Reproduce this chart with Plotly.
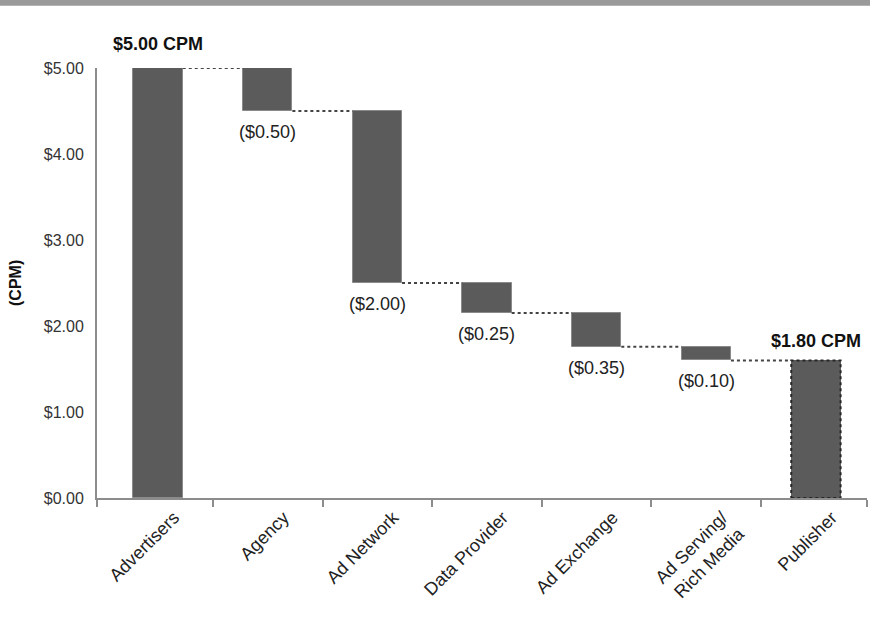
import plotly.graph_objects as go

# ---- data ----
categories = ["Advertisers", "Agency", "Ad Network", "Data Provider",
              "Ad Exchange", "Ad Serving/<br>Rich Media", "Publisher"]
start_value = 5.00
changes = [-0.50, -2.00, -0.35, -0.39, -0.16]   # drawn step sizes
change_labels = ["($0.50)", "($2.00)", "($0.25)", "($0.35)", "($0.10)"]
start_label = "$5.00 CPM"
end_label = "$1.80 CPM"
y_ticks = [0, 1, 2, 3, 4, 5]
y_tick_labels = ["$0.00", "$1.00", "$2.00", "$3.00", "$4.00", "$5.00"]

# ---- derived waterfall geometry ----
levels = [start_value]
for c in changes:
    levels.append(levels[-1] + c)
end_value = levels[-1]

bar_x = list(range(len(categories)))
bar_base = [0] + [levels[i + 1] for i in range(len(changes))] + [0]
bar_height = [start_value] + [-c for c in changes] + [end_value]

W = 0.45
X_RANGE = [-0.557, 6.466]
FONT = "Liberation Sans, Arial, sans-serif"
BAR = "#5b5b5b"

fig = go.Figure()

fig.add_trace(go.Bar(
    x=bar_x[:-1], y=bar_height[:-1], base=bar_base[:-1], width=W,
    marker=dict(color=BAR, line=dict(color="#8a8a8a", width=1)),
    showlegend=False, hoverinfo="skip"))

fig.add_trace(go.Bar(
    x=[bar_x[-1]], y=[bar_height[-1]], base=[bar_base[-1]], width=W,
    marker=dict(color=BAR, line=dict(width=0)),
    showlegend=False, hoverinfo="skip"))

# dotted outline of the publisher bar
px = bar_x[-1]
fig.add_trace(go.Scatter(
    x=[px - W / 2, px + W / 2, px + W / 2, px - W / 2, px - W / 2],
    y=[0, 0, end_value, end_value, 0],
    mode="lines", line=dict(color="#262626", width=2, dash="dot"),
    showlegend=False, hoverinfo="skip"))

# connectors
for i in range(len(categories) - 1):
    lvl = levels[i] if i < len(levels) else end_value
    fig.add_trace(go.Scatter(
        x=[i + W / 2, i + 1 - W / 2], y=[lvl, lvl], mode="lines",
        line=dict(color="#444444", width=2, dash="dot"),
        showlegend=False, hoverinfo="skip"))

annotations = []
for i, txt in enumerate(change_labels):
    annotations.append(dict(
        x=i + 1, y=levels[i + 1], text=txt, showarrow=False,
        yanchor="top", yshift=-9, font=dict(family=FONT, size=18, color="#222")))
annotations.append(dict(
    x=0, y=start_value, text="<b>" + start_label + "</b>", showarrow=False,
    yanchor="bottom", yshift=12, font=dict(family=FONT, size=18, color="#111")))
annotations.append(dict(
    x=px, y=end_value, text="<b>" + end_label + "</b>", showarrow=False,
    yanchor="bottom", yshift=7, font=dict(family=FONT, size=18, color="#111")))
annotations.append(dict(
    xref="paper", yref="paper", x=-0.1065, y=0.50, xanchor="center",
    yanchor="middle", text="<b>(CPM)</b>",
    showarrow=False, textangle=-90, font=dict(family=FONT, size=16, color="#111")))

boundary_ticks = [X_RANGE[0]] + [i + 0.5 for i in range(len(categories) - 1)] + [X_RANGE[1]]

fig.update_layout(
    width=870, height=636,
    margin=dict(l=97, r=3, t=68, b=138),
    paper_bgcolor="white", plot_bgcolor="white",
    font=dict(family=FONT, size=16, color="#333"),
    bargap=0,
    annotations=annotations,
    shapes=[dict(type="rect", xref="paper", yref="paper",
                 x0=-0.2, x1=1.1, y0=1.1445, y1=1.17,
                 fillcolor="#9a9a9a", line=dict(width=0), layer="above")],
    xaxis=dict(
        range=X_RANGE, tickvals=bar_x, ticktext=categories,
        tickangle=-45, ticks="", showgrid=False, zeroline=False,
        showline=True, linecolor="#8c8c8c", linewidth=2,
        ticklabelshift=16,
        tickfont=dict(family=FONT, size=18, color="#222"),
        minor=dict(tickvals=boundary_ticks,
                   ticks="outside", ticklen=7, tickwidth=2, tickcolor="#8c8c8c",
                   showgrid=False)),
    yaxis=dict(
        range=[0, 5], tickvals=y_ticks, ticktext=y_tick_labels,
        showgrid=False, zeroline=False, showline=True,
        linecolor="#8c8c8c", linewidth=2, ticks="", ticklabelstandoff=8,
        tickfont=dict(family=FONT, size=16, color="#333")),
)

fig.write_html("out.html")
